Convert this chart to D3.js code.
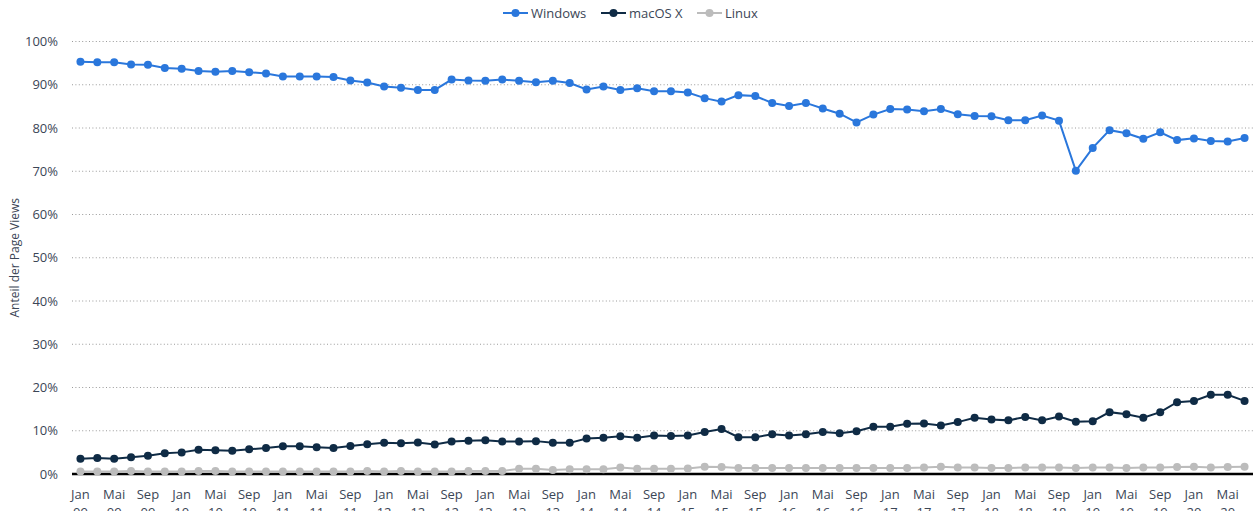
<!DOCTYPE html>
<html>
<head>
<meta charset="utf-8">
<script src="https://cdn.jsdelivr.net/npm/d3@7"></script>
<style>
html,body{margin:0;padding:0;background:#fff;}
svg{display:block;font-family:"Open Sans","Noto Sans",sans-serif;}
</style>
</head>
<body>
<svg id="chart" width="1258" height="511"></svg>
<script>
const monthNames = ["Jan","Mär","Mai","Jul","Sep","Nov"];
const years = ["09","10","11","12","13","14","15","16","17","18","19","20"];
const categories = [];
years.forEach(y => monthNames.forEach(m => categories.push(m + " " + y)));
categories.length = 70; // Jan 09 .. Jul 20

const seriesNames = ["Windows","macOS X","Linux"];
const seriesColors = ["#2a77dc","#0f2b45","#bcbcbc"];

const windows = [95.3,95.2,95.2,94.7,94.6,93.9,93.7,93.2,93.0,93.2,
  92.9,92.6,91.9,91.9,91.9,91.8,91.0,90.5,89.6,89.3,
  88.8,88.8,91.2,91.0,90.9,91.2,90.9,90.6,90.9,90.4,
  88.9,89.6,88.8,89.2,88.5,88.5,88.2,86.9,86.1,87.6,
  87.4,85.8,85.1,85.8,84.5,83.3,81.3,83.1,84.4,84.3,
  83.9,84.4,83.2,82.8,82.7,81.8,81.8,82.9,81.7,70.1,
  75.4,79.5,78.8,77.5,79.0,77.2,77.6,77.0,76.9,77.7];
const macos = [3.5,3.7,3.5,3.9,4.2,4.8,5.0,5.6,5.5,5.4,
  5.7,6.0,6.4,6.4,6.2,6.0,6.5,6.9,7.2,7.1,
  7.3,6.8,7.5,7.7,7.8,7.5,7.5,7.6,7.2,7.2,
  8.2,8.4,8.7,8.4,8.9,8.8,8.9,9.7,10.4,8.5,
  8.5,9.2,8.9,9.2,9.7,9.4,9.9,10.9,10.9,11.6,
  11.7,11.2,12.0,13.0,12.6,12.4,13.2,12.4,13.3,12.1,
  12.2,14.3,13.8,13.0,14.3,16.6,16.9,18.3,18.3,16.9];
const linux = [0.6,0.6,0.6,0.7,0.6,0.6,0.6,0.7,0.7,0.6,
  0.6,0.6,0.6,0.6,0.6,0.6,0.6,0.7,0.6,0.7,
  0.6,0.6,0.6,0.7,0.7,0.7,1.2,1.2,0.9,1.1,
  1.1,1.1,1.5,1.2,1.2,1.2,1.3,1.7,1.6,1.4,
  1.4,1.4,1.4,1.4,1.4,1.4,1.4,1.4,1.4,1.4,
  1.5,1.7,1.5,1.5,1.4,1.4,1.5,1.5,1.5,1.4,
  1.5,1.5,1.4,1.5,1.5,1.6,1.7,1.5,1.6,1.7];
const yTicks = [0,10,20,30,40,50,60,70,80,90,100];
const yTitle = "Anteil der Page Views";

const svg = d3.select("#chart");
const mLeft = 72, mRight = 1253, mTop = 41.5, mBottom = 474;

const x = d3.scaleBand().domain(categories).range([mLeft, mRight]).padding(0);
const cx = d => x(d) + x.bandwidth() / 2;
const y = d3.scaleLinear().domain([0, 100]).range([mBottom, mTop]);

// gridlines
svg.append("g").selectAll("line").data(yTicks.filter(t => t > 0)).join("line")
  .attr("x1", mLeft).attr("x2", mRight)
  .attr("y1", d => y(d)).attr("y2", d => y(d))
  .attr("stroke", "#9a9a9a").attr("stroke-width", 1)
  .attr("stroke-dasharray", "1,2.4");

// y labels
const yAxis = d3.axisLeft(y).tickValues(yTicks).tickFormat(d => d + "%").tickSize(0).tickPadding(14);
const yg = svg.append("g").attr("transform", `translate(${mLeft},0)`).call(yAxis);
yg.select(".domain").remove();
yg.selectAll("text").attr("fill", "#3b4656").style("font-size", "13px")
  .style("font-family", "'Open Sans','Noto Sans',sans-serif");

// y title
svg.append("text").attr("transform", `translate(19,${(mTop + mBottom) / 2}) rotate(-90)`)
  .attr("text-anchor", "middle").attr("fill", "#3b4656").style("font-size", "12px")
  .text(yTitle);

// x labels
const xAxis = d3.axisBottom(x).tickValues(categories.filter((d, i) => i % 2 === 0)).tickSize(0).tickPadding(0);
const xg = svg.append("g").attr("transform", `translate(0,${mBottom})`).call(xAxis);
xg.select(".domain").remove();
xg.selectAll("text").each(function(d) {
  const t = d3.select(this);
  const parts = d.split(" ");
  t.text(null).attr("fill", "#3b4656").style("font-size", "13px").attr("y", 0).attr("dy", null)
   .style("font-family", "'Open Sans','Noto Sans',sans-serif");
  t.append("tspan").attr("x", 0).attr("y", 25).text(parts[0]);
  t.append("tspan").attr("x", 0).attr("y", 43).text(parts[1]);
});

// baseline
svg.append("line").attr("x1", mLeft).attr("x2", mRight).attr("y1", y(0)).attr("y2", y(0))
  .attr("stroke", "#000").attr("stroke-width", 2.5);

// series
const allSeries = [windows, macos, linux];
const order = [2, 1, 0];
order.forEach(si => {
  const vals = allSeries[si];
  const g = svg.append("g");
  const line = d3.line().x((d, i) => cx(categories[i])).y(d => y(d));
  g.append("path").attr("d", line(vals)).attr("fill", "none")
    .attr("stroke", seriesColors[si]).attr("stroke-width", 2);
  g.selectAll("circle").data(vals).join("circle")
    .attr("cx", (d, i) => cx(categories[i])).attr("cy", d => y(d)).attr("r", 4)
    .attr("fill", seriesColors[si]);
});

// legend
const legendX = [503, 601, 697];
const lg = svg.append("g");
seriesNames.forEach((n, i) => {
  const lx = legendX[i];
  lg.append("line").attr("x1", lx).attr("x2", lx + 25).attr("y1", 13).attr("y2", 13)
    .attr("stroke", seriesColors[i]).attr("stroke-width", 2);
  lg.append("circle").attr("cx", lx + 12.5).attr("cy", 13).attr("r", 4).attr("fill", seriesColors[i]);
  lg.append("text").attr("x", lx + 28).attr("y", 13).attr("dy", "0.35em")
    .attr("fill", "#3b4656").style("font-size", "13px").text(n);
});
</script>
</body>
</html>
